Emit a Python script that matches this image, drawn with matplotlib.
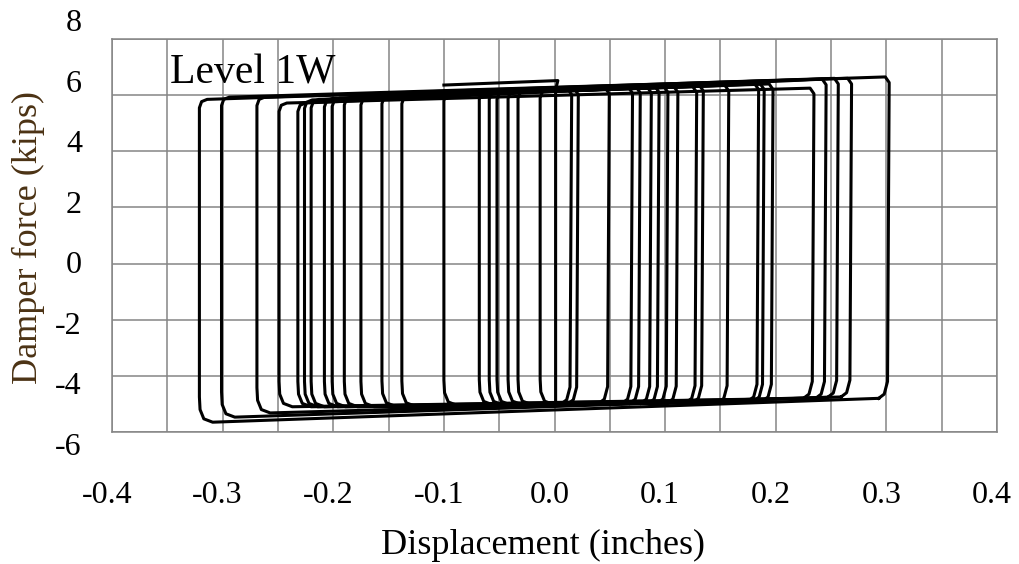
import numpy as np
import matplotlib
matplotlib.use('Agg')
import matplotlib.pyplot as plt
from matplotlib import transforms

# hysteresis loops: reversal displacements (in) and
# friction force at each corner (kips)
left_x = [-0.321, -0.301, -0.269, -0.249, -0.232, -0.226, -0.220, -0.208, -0.201, -0.190,
          -0.175, -0.156, -0.138, -0.100, -0.068, -0.059, -0.052, -0.042, -0.033, -0.013]
right_x = [0.301, 0.267, 0.255, 0.233, 0.244, 0.196, 0.188, 0.183, 0.156, 0.133,
           0.127, 0.110, 0.101, 0.093, 0.086, 0.076, 0.069, 0.048, 0.020, 0.014]
top_left = [5.85, 5.93, 5.93, 5.72, 5.72, 5.83, 5.85, 5.88, 5.90, 5.95,
            5.95, 6.00, 6.00, 6.10, 6.15, 6.15, 6.15, 6.18, 6.18, 6.20]
top_right = [6.65, 6.60, 6.60, 6.25, 6.57, 6.40, 6.40, 6.40, 6.35, 6.35,
             6.30, 6.30, 6.30, 6.30, 6.28, 6.28, 6.27, 6.25, 6.22, 6.22]
bot_left = [-5.65, -5.47, -5.32, -5.10, -5.10, -5.10, -5.10, -5.10, -5.10, -5.10,
            -5.10, -5.08, -5.08, -5.05, -5.03, -5.03, -5.03, -5.02, -5.02, -5.02]
bot_right = [-4.80, -4.75, -4.76, -4.80, -4.80, -4.90, -4.90, -4.90, -4.95, -4.95,
             -4.95, -4.97, -4.97, -4.98, -4.98, -4.98, -4.98, -4.98, -5.00, -5.00]

# start of record: short tail on top and the first drop near zero
tail_x = [-0.100, 0.003, 0.001, 0.001]
tail_f = [6.36, 6.52, 6.20, -5.00]

xticks = [-0.4, -0.3, -0.2, -0.1, 0.0, 0.1, 0.2, 0.3, 0.4]
yticks = [-6, -4, -2, 0, 2, 4, 6, 8]

plt.rcParams['font.family'] = ['Liberation Serif', 'DejaVu Serif']

fig = plt.figure(figsize=(10.2, 5.64), dpi=100)
ax = fig.add_axes([0.1098, 0.234, 0.8677, 0.6968])

grid_c = '#858585'
ax.set_xlim(-0.4, 0.4)
ax.set_ylim(-6, 8)
ax.set_xticks(xticks)
ax.set_xticks(np.arange(-0.35, 0.4, 0.1), minor=True)
ax.set_yticks(yticks)
ax.grid(True, which='both', axis='x', color=grid_c, lw=1.1)
ax.grid(True, which='major', axis='y', color=grid_c, lw=1.1)
ax.set_axisbelow(True)
ax.tick_params(which='both', length=0, labelbottom=False, labelleft=False)
for s in ax.spines.values():
    s.set_color(grid_c)
    s.set_linewidth(1.1)

# loops
for xl, xr, ftl, ftr, fbl, fbr in zip(left_x, right_x, top_left, top_right, bot_left, bot_right):
    px = [xr - 0.008, xl + 0.012, xl + 0.004, xl + 0.0006, xl, xl, xl + 0.002, xl + 0.007,
          xr - 0.002, xr + 0.0015, xr, xr - 0.003, xr - 0.008]
    py = [fbr, fbl, fbl + 0.12, fbl + 0.45, fbl + 0.9, ftl - 0.3, ftl - 0.08, ftl,
          ftr, ftr - 0.2, fbr + 0.6, fbr + 0.15, fbr]
    ax.plot(px, py, color='black', lw=2.2, solid_joinstyle='round')

ax.plot(tail_x, tail_f, color='black', lw=2.2)

ax.text(-0.348, 6.43, 'Level 1W', fontsize=30, ha='left', va='baseline')

# tick labels (as drawn in the source, slightly spread out)
bx = transforms.blended_transform_factory(ax.transData, ax.transAxes)
by = transforms.blended_transform_factory(ax.transAxes, ax.transData)
for v in xticks:
    lab = '0.0' if abs(v) < 1e-9 else f'{v:.1f}'
    ax.text(v, 0, lab, fontsize=23, ha='center', va='top',
            transform=bx + transforms.ScaledTranslation(-0.05, -0.49, fig.dpi_scale_trans))
for v in yticks:
    ax.text(0, v, str(v), fontsize=23, ha='right', va='center',
            transform=by + transforms.ScaledTranslation(-0.30, 0.022 * (v - 1), fig.dpi_scale_trans))

fig.text(543 / 1020, 1 - 545 / 564, 'Displacement (inches)', fontsize=26, ha='center', va='center')
fig.text(28 / 1020, 1 - 237 / 564, 'Damper force (kips)', fontsize=26, ha='center', va='center',
         rotation=90, color='#4b3214')

fig.savefig('out.png', dpi=100)
